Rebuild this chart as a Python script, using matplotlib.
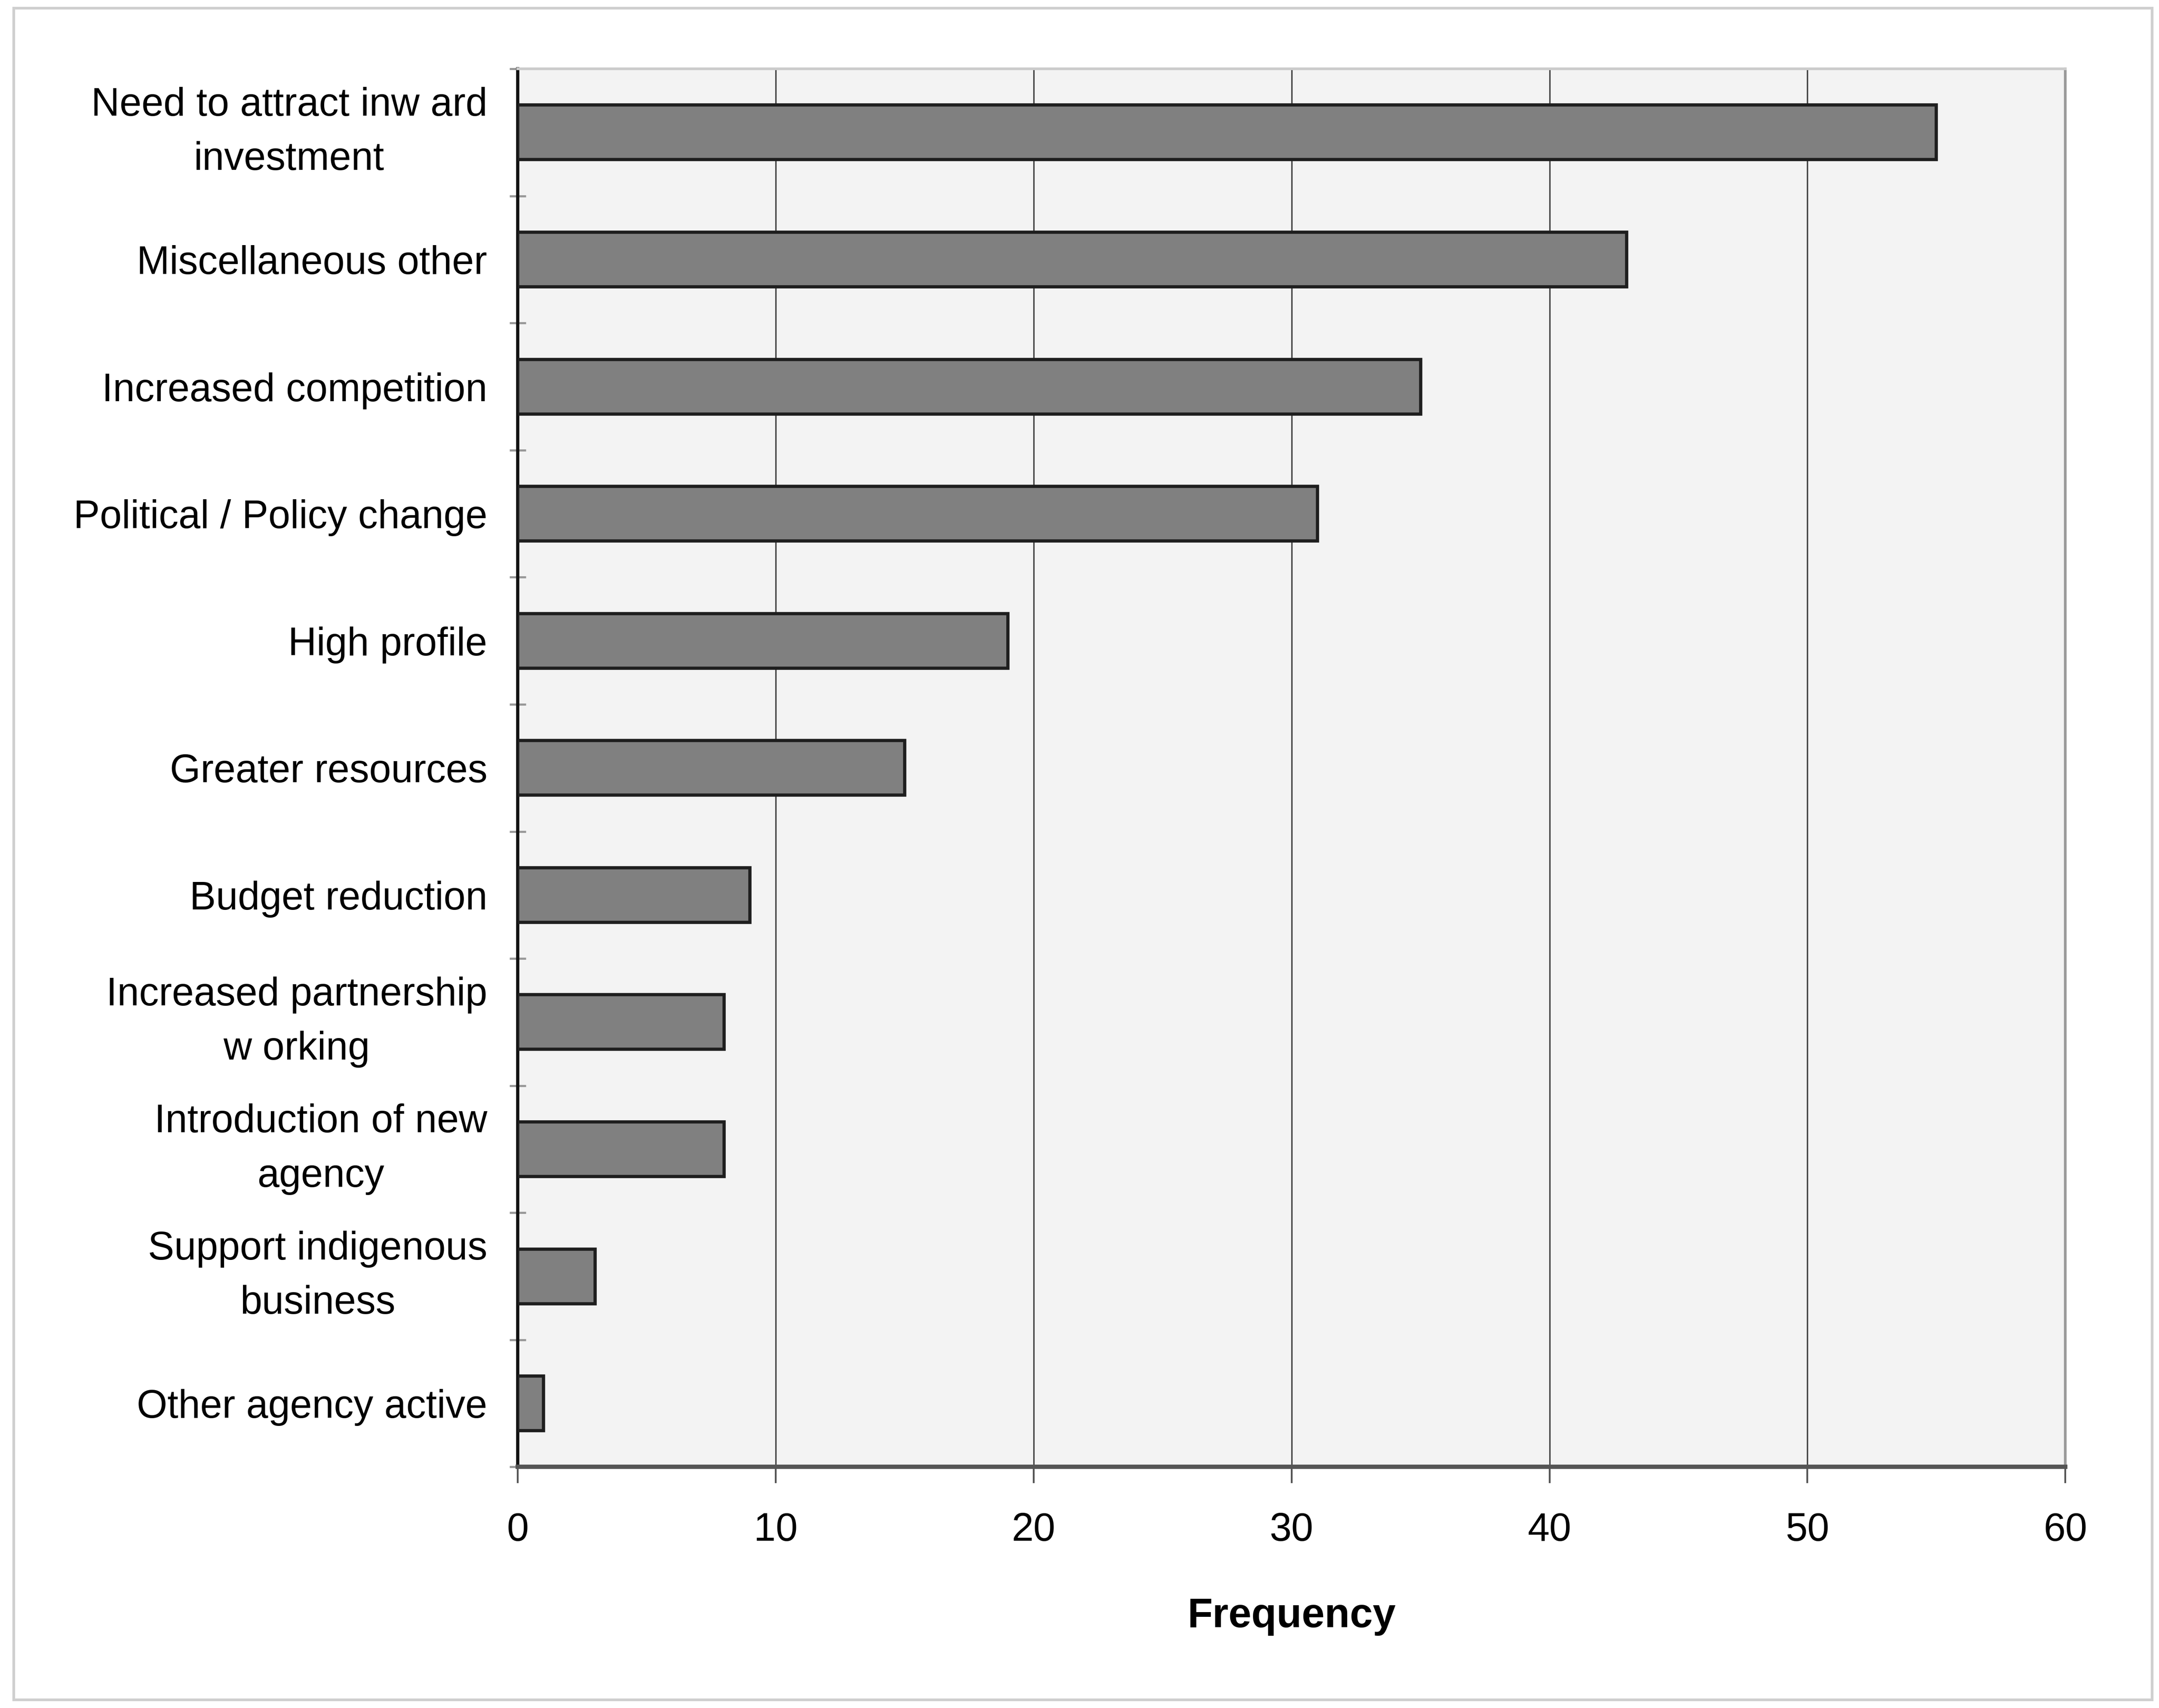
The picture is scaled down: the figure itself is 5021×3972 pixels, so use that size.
"""Horizontal bar chart of reasons for change, drawn in the old Excel look."""
import matplotlib
matplotlib.use("Agg")
import matplotlib.pyplot as plt
from matplotlib.patches import Rectangle
import numpy as np

categories = [
    "Need to attract inw ard\ninvestment",
    "Miscellaneous other",
    "Increased competition",
    "Political / Policy change",
    "High profile",
    "Greater resources",
    "Budget reduction",
    "Increased partnership\nw orking",
    "Introduction of new\nagency",
    "Support indigenous\nbusiness",
    "Other agency active",
]
frequency = [55, 43, 35, 31, 19, 15, 9, 8, 8, 3, 1]
x_ticks = [0, 10, 20, 30, 40, 50, 60]

plt.rcParams["font.family"] = ["Liberation Sans", "DejaVu Sans"]

W, H, DPI = 5021, 3972, 300
fig = plt.figure(figsize=(W / DPI, H / DPI), dpi=DPI, facecolor="white")
ax = fig.add_axes([376 / 1568, 1 - 1065 / 1240, (1500 - 376) / 1568, (1065 - 50) / 1240])

# light frame around the whole chart
fig.patches.append(Rectangle((10 / 1568, 6 / 1240), (1563 - 10) / 1568, (1234 - 6) / 1240,
                             transform=fig.transFigure, fill=False,
                             edgecolor="#cfcfcf", linewidth=1.5))

y = np.arange(len(categories))
ax.set_facecolor("#f3f3f3")
ax.barh(y, frequency, height=0.43, color="#808080", edgecolor="#1e1e1e",
        linewidth=1.8, zorder=3)

ax.set_xlim(0, 60)
ax.set_ylim(len(categories) - 0.5, -0.5)
ax.set_xticks(x_ticks)
ax.set_xticklabels([str(v) for v in x_ticks], fontsize=22)
ax.set_yticks(y)
ax.set_yticklabels(categories, fontsize=22, linespacing=1.6, multialignment="center")
for label in ax.get_yticklabels():
    if "\n" in label.get_text():
        label.set_verticalalignment("center")
ax.set_yticks(np.arange(len(categories) + 1) - 0.5, minor=True)

ax.tick_params(axis="y", which="major", length=0, pad=17)
ax.tick_params(axis="y", which="minor", length=9, direction="inout", color="#999999", width=1.2)
ax.tick_params(axis="x", which="major", length=9, direction="out", color="#555555",
               width=1.0, pad=16)

ax.grid(True, axis="x", color="#444444", linewidth=0.8, zorder=1)
ax.set_axisbelow(True)

ax.spines["left"].set_color("#111111")
ax.spines["left"].set_linewidth(1.8)
ax.spines["bottom"].set_color("#555555")
ax.spines["bottom"].set_linewidth(2.4)
ax.spines["top"].set_color("#cccccc")
ax.spines["top"].set_linewidth(1.5)
ax.spines["right"].set_color("#9a9a9a")
ax.spines["right"].set_linewidth(1.5)

ax.set_xlabel("Frequency", fontsize=23, fontweight="bold", va="center")
ax.xaxis.set_label_coords(0.5, -0.107)

fig.savefig("out.png", dpi=DPI)
